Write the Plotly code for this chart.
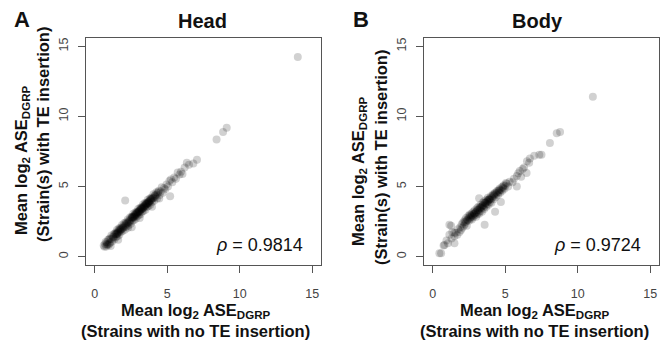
import plotly.graph_objects as go

# ---------------- data ----------------
tick_vals = [0, 5, 10, 15]
tick_text = ["0", "5", "10", "15"]

head_x = [
    0.62, 0.68, 0.72, 0.75, 0.80, 0.84, 0.88, 0.92, 0.95, 1.00, 1.03, 1.08, 1.12, 1.15, 1.20, 1.24, 1.28, 1.32, 1.36, 1.40,
    1.43, 1.47, 1.50, 1.53, 1.57, 1.60, 1.63, 1.66, 1.70, 1.73, 1.76, 1.80, 1.84, 1.88, 1.92, 1.96, 2.00, 2.04, 2.08, 2.12,
    2.16, 2.20, 2.24, 2.28, 2.32, 2.36, 2.40, 2.44, 2.48, 2.52, 2.56, 2.60, 2.63, 2.66, 2.70, 2.73, 2.76, 2.80, 2.83, 2.86,
    2.90, 2.93, 2.96, 3.00, 3.03, 3.06, 3.10, 3.13, 3.16, 3.20, 3.23, 3.26, 3.30, 3.33, 3.36, 3.40, 3.43, 3.46, 3.50, 3.53,
    3.56, 3.60, 3.63, 3.66, 3.70, 3.73, 3.76, 3.80, 3.84, 3.88, 3.92, 3.96, 4.00, 4.05, 4.10, 4.15, 4.20, 4.25, 4.30, 4.36,
    4.42, 4.48, 4.55, 4.62, 4.70, 4.78, 4.86, 4.95, 5.05, 5.15, 5.25, 5.35, 5.48, 5.60, 5.72, 5.85, 5.95, 6.05, 6.20, 6.35,
    6.50, 6.80, 7.05,
    2.10, 5.20, 1.62, 2.55, 3.95, 4.45, 3.10, 2.30, 1.10,
    8.40, 8.85, 9.10, 14.00,
    1.45, 1.55, 1.65, 1.75, 1.85, 1.95, 2.05, 2.15, 2.25, 2.35, 2.45, 2.55, 2.65, 2.75, 2.85,
    2.95, 3.05, 3.15, 3.25, 3.35, 3.45, 3.55, 3.65, 3.75, 3.85, 3.95, 4.05, 4.15, 4.25, 4.35,
    2.58, 2.68, 2.78, 2.88, 2.98, 3.08, 3.18, 3.28, 3.38, 3.48, 3.58, 3.68, 3.78, 3.88,
    1.00, 1.30, 0.85, 1.55, 1.80,
]
head_y = [
    0.80, 0.70, 0.90, 1.05, 0.72, 1.02, 0.90, 1.20, 0.82, 1.22, 1.30, 1.00, 1.25, 1.50, 1.08, 1.42, 1.30, 1.62, 1.22, 1.62,
    1.70, 1.40, 1.62, 1.90, 1.45, 1.80, 1.70, 2.00, 1.55, 1.95, 2.05, 1.75, 2.00, 2.25, 1.82, 2.18, 2.05, 2.40, 1.92, 2.35,
    2.45, 2.15, 2.40, 2.65, 2.22, 2.58, 2.45, 2.80, 2.35, 2.78, 2.85, 2.55, 2.80, 3.05, 2.60, 2.95, 2.82, 3.15, 2.70, 3.10,
    3.20, 2.88, 3.12, 3.40, 2.95, 3.28, 3.15, 3.48, 3.02, 3.45, 3.52, 3.20, 3.45, 3.72, 3.25, 3.62, 3.48, 3.82, 3.35, 3.78,
    3.85, 3.55, 3.78, 4.05, 3.60, 3.95, 3.80, 4.15, 3.70, 4.12, 4.22, 3.90, 4.15, 4.45, 3.98, 4.38, 4.25, 4.60, 4.15, 4.60,
    4.70, 4.40, 4.65, 4.95, 4.55, 4.90, 4.80, 5.15, 5.00, 5.40, 5.50, 5.30, 5.65, 5.55, 6.00, 5.85, 6.05, 5.90, 6.35, 6.70,
    6.55, 6.65, 6.92,
    4.00, 4.30, 1.20, 2.10, 3.55, 4.15, 2.75, 2.05, 0.75,
    8.35, 8.90, 9.20, 14.25,
    1.58, 1.70, 1.75, 1.88, 1.95, 2.08, 2.15, 2.28, 2.35, 2.48, 2.58, 2.70, 2.78, 2.90, 2.98,
    3.12, 3.20, 3.32, 3.40, 3.52, 3.60, 3.72, 3.80, 3.92, 4.00, 4.12, 4.20, 4.32, 4.42, 4.52,
    2.80, 2.86, 3.00, 3.04, 3.18, 3.26, 3.38, 3.44, 3.55, 3.66, 3.78, 3.86, 3.95, 4.06,
    0.92, 1.40, 0.85, 1.62, 1.92,
]

body_x = [
    0.46, 0.58, 0.75, 0.81, 0.95, 1.05, 1.15, 1.15, 1.27, 1.30, 1.35, 1.50, 1.50, 1.50, 1.60, 1.70, 1.75, 1.85, 1.90, 1.95,
    2.00, 2.05, 2.10, 2.15, 2.20, 2.25, 2.30, 2.30, 2.35, 2.40, 2.45, 2.50, 2.50, 2.55, 2.60, 2.60, 2.65, 2.70, 2.70, 2.75,
    2.80, 2.80, 2.85, 2.90, 2.90, 2.95, 3.00, 3.00, 3.05, 3.05, 3.10, 3.15, 3.15, 3.20, 3.20, 3.25, 3.30, 3.30, 3.35, 3.40,
    3.40, 3.45, 3.50, 3.50, 3.55, 3.55, 3.58, 3.60, 3.65, 3.70, 3.70, 3.75, 3.80, 3.80, 3.85, 3.90, 3.95, 4.00, 4.00, 4.05,
    4.10, 4.15, 4.20, 4.25, 4.30, 4.30, 4.35, 4.40, 4.45, 4.50, 4.55, 4.60, 4.65, 4.70, 4.70, 4.75, 4.80, 4.85, 4.90, 4.95,
    5.00, 5.10, 5.20, 5.30, 5.50, 5.60, 5.80, 5.80, 5.90, 6.00, 6.10, 6.20, 6.30, 6.47, 6.50, 6.65, 6.70, 7.00, 7.35, 7.50,
    8.08, 8.55, 8.78, 11.04,
    3.20, 2.40, 2.70, 2.95, 3.10, 3.35, 3.45, 3.60, 3.75, 3.85, 3.95, 4.10, 4.20, 4.40, 4.60,
    2.20, 2.55, 2.85, 3.25, 3.65, 3.90, 4.25, 4.55, 4.85, 5.05,
]
body_y = [
    0.24, 0.24, 0.80, 0.83, 1.15, 0.95, 1.55, 2.27, 2.20, 1.30, 1.75, 0.96, 1.45, 1.70, 1.70, 1.55, 1.95, 1.75, 2.10, 1.90,
    2.30, 2.05, 2.45, 2.20, 2.60, 2.35, 2.75, 2.50, 2.20, 2.65, 2.90, 2.55, 2.80, 3.00, 2.70, 2.95, 2.85, 3.10, 2.65, 2.90,
    3.20, 2.80, 3.05, 2.95, 3.30, 3.10, 2.85, 3.20, 3.45, 3.00, 3.30, 3.15, 3.55, 3.35, 3.05, 3.50, 3.25, 3.70, 3.45, 3.60,
    3.20, 3.85, 3.50, 3.70, 3.40, 3.95, 2.27, 3.65, 3.85, 3.55, 4.05, 3.75, 3.95, 4.20, 3.70, 4.10, 3.90, 4.30, 4.05, 3.85,
    4.20, 4.45, 4.10, 4.35, 3.20, 4.55, 4.25, 4.50, 4.70, 4.40, 4.60, 4.85, 4.55, 3.90, 4.75, 4.95, 4.70, 4.90, 5.10, 4.85,
    5.05, 5.20, 5.00, 5.35, 5.30, 5.55, 5.75, 5.00, 5.95, 6.10, 5.70, 6.25, 6.35, 5.96, 6.80, 6.70, 7.00, 7.20, 7.27, 7.27,
    8.10, 8.80, 8.90, 11.40,
    4.17, 2.60, 2.95, 3.15, 3.35, 3.55, 3.65, 3.85, 3.95, 4.05, 4.15, 4.30, 4.40, 4.60, 4.75,
    2.45, 2.75, 3.05, 3.45, 3.85, 4.05, 4.45, 4.70, 5.00, 5.25,
]

rho_head = "0.9814"
rho_body = "0.9724"

# ---------------- layout helpers ----------------
W, H = 661, 346
FONT = "Liberation Sans, Arial, Helvetica, sans-serif"


def fx(p):
    return p / W


def fy(p):
    return 1 - p / H


marker = dict(size=8, color="rgba(0,0,0,0.18)", line=dict(width=0))

fig = go.Figure()
fig.add_trace(go.Scatter(x=head_x, y=head_y, mode="markers", marker=marker,
                         xaxis="x", yaxis="y", showlegend=False, hoverinfo="skip"))
fig.add_trace(go.Scatter(x=body_x, y=body_y, mode="markers", marker=marker,
                         xaxis="x2", yaxis="y2", showlegend=False, hoverinfo="skip"))

axis_common = dict(
    range=[-0.6, 15.6], tickmode="array", tickvals=tick_vals, ticktext=tick_text,
    showgrid=False, zeroline=False, showline=True, mirror=True,
    linecolor="#555555", linewidth=1, ticks="outside", ticklen=7, tickwidth=1,
    tickcolor="#555555", tickfont=dict(family=FONT, size=12.5, color="#444444"),
)
xdomA = [fx(86), fx(321)]
xdomB = [fx(424), fx(659)]
ydom = [fy(265), fy(38)]

fig.update_layout(
    width=W, height=H, autosize=False,
    margin=dict(l=0, r=0, t=0, b=0, pad=0),
    paper_bgcolor="white", plot_bgcolor="white",
    xaxis=dict(axis_common, domain=xdomA, anchor="y", ticklabelstandoff=10),
    yaxis=dict(axis_common, domain=ydom, anchor="x", tickangle=-90, ticklabelstandoff=5),
    xaxis2=dict(axis_common, domain=xdomB, anchor="y2", ticklabelstandoff=10),
    yaxis2=dict(axis_common, domain=ydom, anchor="x2", tickangle=-90, ticklabelstandoff=5),
)

line1 = "Mean log<sub>2</sub> ASE<sub>DGRP</sub>"
xline2 = "(Strains with no TE insertion)"
yline2 = "(Strain(s) with TE insertion)"

ann = []


def add(text, x, y, size, bold=True, angle=0, xanchor="center", yanchor="middle"):
    t = "<b>" + text + "</b>" if bold else text
    ann.append(dict(text=t, x=fx(x), y=fy(y), xref="paper", yref="paper",
                    showarrow=False, textangle=angle, xanchor=xanchor, yanchor=yanchor,
                    font=dict(family=FONT, size=size, color="#111111")))


# panel letters and titles
add("A", 22, 20, 22)
add("B", 361, 20, 22)
add("Head", 202, 21, 20)
add("Body", 537, 21, 20)

# x titles
add(line1, 196, 311, 16.5)
add(xline2, 195, 331, 16.5)
add(line1, 535, 311, 16.5)
add(xline2, 534, 331, 16.5)

# y titles
add(line1, 22, 160, 16.5, angle=-90)
add(yline2, 43, 135, 16.5, angle=-90)
add(line1, 359, 171, 16.5, angle=-90)
add(yline2, 381, 158, 16.5, angle=-90)

# rho
add("<i>ρ</i> = " + rho_head, 305, 245, 18, bold=False, xanchor="right")
add("<i>ρ</i> = " + rho_body, 643, 245, 18, bold=False, xanchor="right")

fig.update_layout(annotations=ann)
fig.write_html("out.html", config={"displayModeBar": False},
               post_script="document.body.style.margin='0';document.body.style.overflow='hidden';")
